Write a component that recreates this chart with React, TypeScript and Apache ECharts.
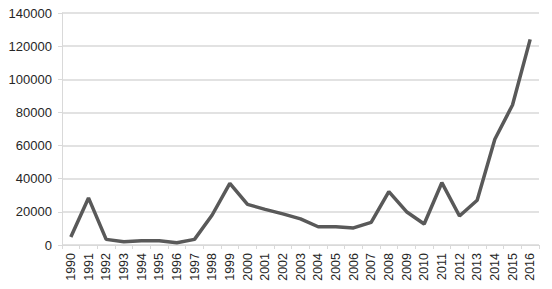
import React, { useEffect, useRef } from "react";
import * as echarts from "echarts";

const years = [
  "1990","1991","1992","1993","1994","1995","1996","1997","1998","1999",
  "2000","2001","2002","2003","2004","2005","2006","2007","2008","2009",
  "2010","2011","2012","2013","2014","2015","2016",
];
const values = [
  4800, 28400, 3400, 2000, 2500, 2500, 1400, 3400, 18100, 37200,
  24500, 21500, 18800, 15800, 11000, 11000, 10300, 13700, 32200, 20100,
  12700, 37600, 17500, 27000, 63800, 84500, 124100,
];

const FONT = "Liberation Sans";

export default function App() {
  const ref = useRef<HTMLDivElement>(null);
  useEffect(() => {
    if (!ref.current) return;
    const chart = echarts.init(ref.current, null, { renderer: "svg" });
    chart.setOption({
      animation: false,
      grid: { left: 62, right: 13, top: 13, bottom: 44, containLabel: false },
      xAxis: {
        type: "category",
        data: years,
        boundaryGap: true,
        axisLine: { lineStyle: { color: "#d9d9d9", width: 1 } },
        axisTick: { show: true, length: 4, lineStyle: { color: "#d9d9d9" } },
        axisLabel: {
          rotate: 90,
          interval: 0,
          margin: 8,
          color: "#262626",
          fontFamily: FONT,
          fontSize: 12.5,
        },
      },
      yAxis: {
        type: "value",
        min: 0,
        max: 140000,
        interval: 20000,
        axisLine: { show: true, lineStyle: { color: "#d9d9d9", width: 1 } },
        axisTick: { show: true, length: 4, lineStyle: { color: "#d9d9d9" } },
        splitLine: { lineStyle: { color: "#d9d9d9", width: 1.5 } },
        axisLabel: {
          margin: 10,
          color: "#262626",
          fontFamily: FONT,
          fontSize: 13,
          formatter: (v: number) => String(v),
        },
      },
      series: [
        {
          type: "line",
          data: values,
          symbol: "none",
          lineStyle: { color: "#595959", width: 3.5 },
        },
      ],
    });
    return () => chart.dispose();
  }, []);
  return <div ref={ref} style={{ width: 552, height: 289, marginLeft: -8, marginTop: -8 }} />;
}
